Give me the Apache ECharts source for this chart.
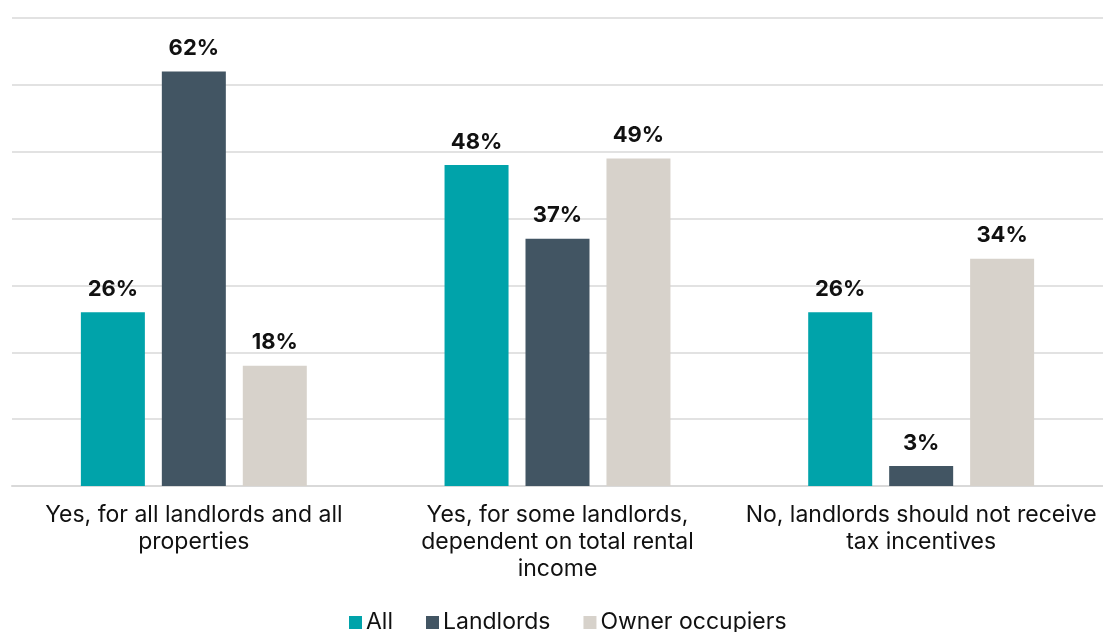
<!DOCTYPE html>
<html>
<head>
<meta charset="utf-8">
<script src="https://cdn.jsdelivr.net/npm/echarts@6/dist/echarts.min.js"></script>
<style>
  html, body { margin: 0; padding: 0; background: #fff; }
  #chart { width: 1103px; height: 632px; }
</style>
</head>
<body>
<div id="chart"></div>
<script>
// Survey answers by respondent group (percent)
const categories = [
  'Yes, for all landlords and all\nproperties',
  'Yes, for some landlords,\ndependent on total rental\nincome',
  'No, landlords should not receive\ntax incentives'
];
const seriesNames = ['All', 'Landlords', 'Owner occupiers'];
const allValues = [26, 48, 26];
const landlordValues = [62, 37, 3];
const ownerValues = [18, 49, 34];
const colors = ['#00A3AA', '#425563', '#D7D2CB'];

const font = 'Inter, "Noto Sans", sans-serif';

function barSeries(name, data, color) {
  return {
    name: name,
    type: 'bar',
    data: data,
    barWidth: 64,
    barGap: '26.5%',
    itemStyle: { color: color },
    label: {
      show: true,
      position: 'top',
      distance: 12,
      formatter: '{c}%',
      fontFamily: font,
      fontWeight: 'bold',
      fontSize: 22,
      color: '#111'
    }
  };
}

const chart = echarts.init(document.getElementById('chart'));
chart.setOption({
  animation: false,
  color: colors,
  grid: { left: 12, width: 1094, top: 18, bottom: 146 },
  legend: {
    top: 606,
    left: 344,
    itemWidth: 13,
    itemHeight: 13,
    itemGap: 33,
    icon: 'rect',
    textStyle: { fontFamily: font, fontSize: 23, color: '#111', padding: [0, 0, 0, -1] },
    data: seriesNames
  },
  xAxis: {
    type: 'category',
    data: categories,
    axisTick: { show: false },
    axisLine: { lineStyle: { color: '#d9d9d9', width: 2 } },
    axisLabel: {
      interval: 0,
      margin: 16,
      fontFamily: font,
      fontSize: 23,
      lineHeight: 27,
      color: '#111'
    }
  },
  yAxis: {
    type: 'value',
    min: 0,
    max: 70,
    interval: 10,
    axisLabel: { show: false },
    axisLine: { show: false },
    axisTick: { show: false },
    splitLine: { lineStyle: { color: '#d9d9d9', width: 1.5 } }
  },
  series: [
    barSeries(seriesNames[0], allValues, colors[0]),
    barSeries(seriesNames[1], landlordValues, colors[1]),
    barSeries(seriesNames[2], ownerValues, colors[2])
  ]
});
</script>
</body>
</html>
